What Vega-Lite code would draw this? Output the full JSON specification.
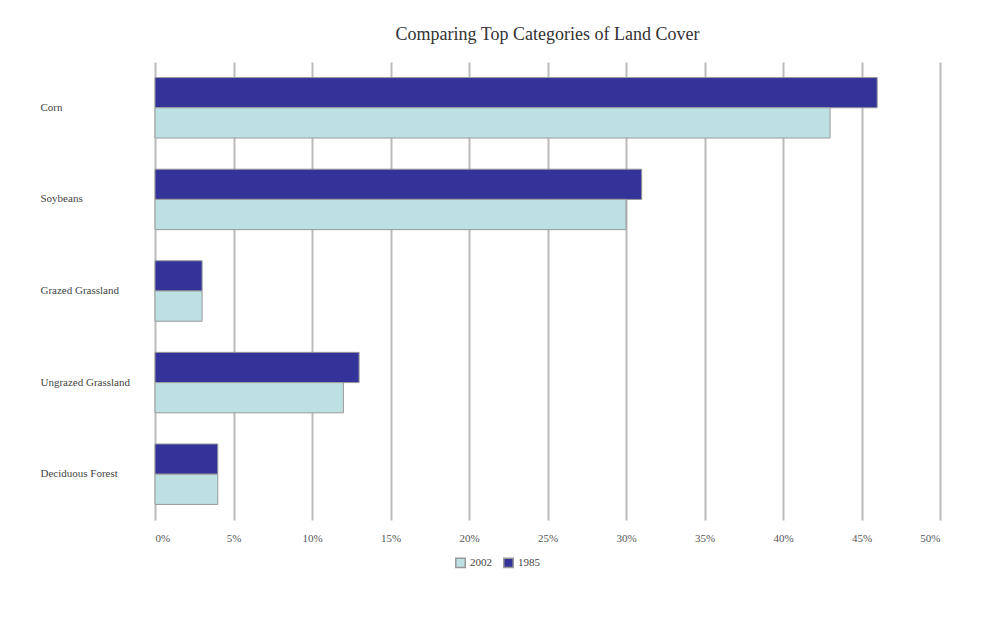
{
  "$schema": "https://vega.github.io/schema/vega-lite/v6.json",
  "width": 785,
  "height": 458,
  "autosize": "none",
  "padding": {"left": 155, "top": 62, "right": 52, "bottom": 120},
  "background": "white",
  "title": {"text": "Comparing Top Categories of Land Cover", "font": "Liberation Serif", "fontSize": 18, "fontWeight": "normal", "color": "#333", "offset": 18, "anchor": "middle"},
  "data": {"values": [
    {"category": "Corn", "year": "1985", "share": 0.46},
    {"category": "Corn", "year": "2002", "share": 0.43},
    {"category": "Soybeans", "year": "1985", "share": 0.31},
    {"category": "Soybeans", "year": "2002", "share": 0.30},
    {"category": "Grazed Grassland", "year": "1985", "share": 0.03},
    {"category": "Grazed Grassland", "year": "2002", "share": 0.03},
    {"category": "Ungrazed Grassland", "year": "1985", "share": 0.13},
    {"category": "Ungrazed Grassland", "year": "2002", "share": 0.12},
    {"category": "Deciduous Forest", "year": "1985", "share": 0.04},
    {"category": "Deciduous Forest", "year": "2002", "share": 0.04}
  ]},
  "mark": {"type": "bar", "stroke": "#999", "strokeWidth": 1},
  "encoding": {
    "y": {
      "field": "category", "type": "nominal", "sort": null, "title": null,
      "scale": {"paddingInner": 0.34, "paddingOuter": 0.17},
      "axis": {"domain": false, "ticks": false, "labelAlign": "left", "labelPadding": 115, "labelFont": "Liberation Serif", "labelFontSize": 11, "labelColor": "#444"}
    },
    "yOffset": {"field": "year", "type": "nominal", "sort": ["1985", "2002"]},
    "x": {
      "field": "share", "type": "quantitative", "title": null,
      "scale": {"domain": [0, 0.5]},
      "axis": {"format": ".0%", "tickCount": 10, "domain": false, "ticks": false, "grid": true, "gridColor": "#bbb", "gridWidth": 2, "labelFont": "Liberation Serif", "labelFontSize": 11, "labelColor": "#555", "labelPadding": 12}
    },
    "color": {
      "field": "year", "type": "nominal", "title": null,
      "scale": {"domain": ["2002", "1985"], "range": ["#bde0e3", "#333399"]},
      "legend": {"orient": "none", "legendX": 300, "legendY": 495, "direction": "horizontal", "symbolType": "square", "symbolSize": 90, "labelFont": "Liberation Serif", "labelFontSize": 11, "labelColor": "#444", "columnPadding": 8}
    }
  },
  "config": {"view": {"stroke": null}}
}
